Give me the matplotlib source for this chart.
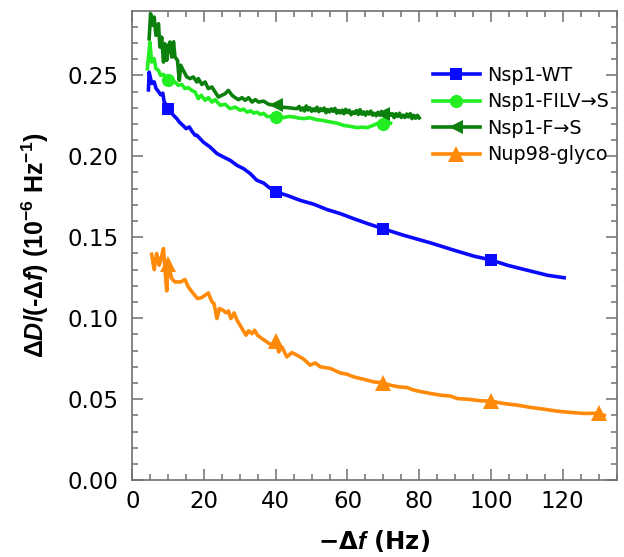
import numpy as np
import matplotlib
matplotlib.use("Agg")
import matplotlib.pyplot as plt

plt.rcParams['font.family'] = ['DejaVu Sans']
plt.rcParams['mathtext.fontset'] = 'custom'
plt.rcParams['mathtext.rm'] = 'Liberation Sans'
plt.rcParams['mathtext.bf'] = 'Liberation Sans:bold'
plt.rcParams['mathtext.it'] = 'Liberation Sans:italic'
plt.rcParams['mathtext.bfit'] = 'Liberation Sans:bold:italic'

# ---- data: -Δf (Hz) vs ΔD/(-Δf) (1e-6 / Hz) ----
wt_x = [4.5, 4.7, 5.4, 6.1, 6.6, 7.3, 7.9, 8.5, 8.9, 9.6, 10.0, 11.5, 12.4, 13.1, 14.1,
        15.0, 15.9, 16.6, 17.5, 18.0, 19.8, 21.7, 23.6, 25.4, 27.3, 29.2, 31.0, 32.9,
        34.7, 36.6, 38.0, 40.0, 43.1, 46.8, 50.6, 54.3, 58.0, 61.7, 65.5, 70.0, 75.7,
        83.2, 89.7, 95.3, 100.0, 104.6, 110.2, 115.8, 120.4]
wt_y = [0.241, 0.252, 0.245, 0.246, 0.242, 0.240, 0.238, 0.239, 0.2335, 0.2315, 0.229,
        0.2253, 0.2233, 0.2212, 0.2191, 0.2171, 0.2181, 0.2156, 0.213, 0.213, 0.2088,
        0.2057, 0.2017, 0.1996, 0.1975, 0.1944, 0.1924, 0.1893, 0.1852, 0.1835, 0.181,
        0.178, 0.1759, 0.1728, 0.1704, 0.1671, 0.1646, 0.1615, 0.1585, 0.1552, 0.1512,
        0.1465, 0.1420, 0.1383, 0.1360, 0.1327, 0.1296, 0.1265, 0.1250]

filv_x = [4.2, 4.7, 4.9, 5.4, 6.1, 6.6, 7.3, 7.9, 8.7, 10.0, 11.9, 12.8, 13.8, 14.7,
          15.6, 16.6, 17.5, 18.4, 19.2, 20.3, 21.2, 22.2, 23.1, 24.5, 25.9, 27.3, 28.7,
          30.1, 31.0, 32.0, 33.0, 33.8, 34.8, 35.7, 36.6, 37.5, 40.0, 41.0, 42.2, 43.5,
          45.0, 46.5, 47.8, 49.5, 51.5, 53.0, 55.2, 57.0, 58.9, 60.5, 62.7, 64.0, 65.5,
          67.0, 68.3, 70.0, 71.0, 72.0]
filv_y = [0.2541, 0.2654, 0.2706, 0.2582, 0.2603, 0.2541, 0.2531, 0.2500, 0.2506,
          0.2469, 0.2459, 0.2438, 0.2444, 0.2418, 0.2424, 0.2407, 0.2397, 0.2356,
          0.2377, 0.2346, 0.2362, 0.2335, 0.2350, 0.2315, 0.2321, 0.2294, 0.2304,
          0.2284, 0.2292, 0.2273, 0.2281, 0.2267, 0.2272, 0.2259, 0.2265, 0.2247,
          0.2243, 0.2250, 0.2239, 0.2246, 0.2243, 0.2236, 0.2233, 0.2238, 0.2226,
          0.2222, 0.2212, 0.2205, 0.2191, 0.2186, 0.2177, 0.2180, 0.2177, 0.2190,
          0.2202, 0.2202, 0.2210, 0.2205]

fs_x = [4.7, 5.1, 5.7, 6.1, 6.6, 7.3, 7.7, 8.2, 8.7, 9.1, 9.6, 10.0, 10.5, 11.0, 11.5,
        11.9, 12.6, 13.1, 13.5, 14.2, 15.2, 16.1, 17.0, 18.0, 18.4, 19.4, 20.3, 21.2,
        22.2, 23.1, 24.0, 25.0, 25.9, 26.8, 27.8, 28.7, 29.6, 30.6, 31.5, 32.4, 33.4,
        34.3, 35.2, 36.6, 38.0, 40.0, 41.3, 43.1, 45.9,
        46.5, 47.0, 47.5, 48.0, 48.5, 49.0, 49.5, 50.0, 50.5, 51.0, 51.5, 52.0, 52.5,
        53.0, 53.5, 54.0, 54.5, 55.0, 55.5, 56.0, 56.5, 57.0, 57.5, 58.0, 58.5, 59.0,
        59.5, 60.0, 60.5, 61.0, 61.5, 62.0, 62.5, 63.0, 63.5, 64.0, 64.5, 65.0, 65.5,
        66.0, 66.5, 67.0, 67.5, 68.0, 68.5, 69.0, 69.5, 70.0, 70.5, 71.0, 71.5, 72.0,
        72.5, 73.0, 73.5, 74.0, 74.5, 75.0, 75.5, 76.0, 76.5, 77.0, 77.5, 78.0, 78.5,
        79.0, 79.5, 80.0]
fs_y = [0.2726, 0.288, 0.2809, 0.286, 0.2747, 0.2819, 0.2675, 0.2736, 0.2582, 0.2695,
        0.2593, 0.2675, 0.2706, 0.2613, 0.2706, 0.2613, 0.2593, 0.2469, 0.2562, 0.2531,
        0.249, 0.248, 0.249, 0.2459, 0.248, 0.2444, 0.2459, 0.2418, 0.2428, 0.2397,
        0.2366, 0.2377, 0.2387, 0.2407, 0.2377, 0.2362, 0.235, 0.2362, 0.2346, 0.2362,
        0.2335, 0.235, 0.2335, 0.2341, 0.2321, 0.2315, 0.2304, 0.2301, 0.2294,
        0.2308, 0.2285, 0.2299, 0.2280, 0.2311, 0.2286, 0.2300, 0.2278, 0.2293, 0.2281,
        0.2303, 0.2276, 0.2294, 0.2282, 0.2298, 0.2269, 0.2289, 0.2274, 0.2293, 0.2278,
        0.2296, 0.2267, 0.2283, 0.2268, 0.2285, 0.2263, 0.2290, 0.2270, 0.2284, 0.2257,
        0.2274, 0.2265, 0.2283, 0.2259, 0.2288, 0.2260, 0.2274, 0.2254, 0.2275, 0.2261,
        0.2279, 0.2254, 0.2266, 0.2250, 0.2272, 0.2254, 0.2277, 0.2262, 0.2263, 0.2248,
        0.2270, 0.2254, 0.2263, 0.2239, 0.2263, 0.2246, 0.2266, 0.2240, 0.2254, 0.2240,
        0.2261, 0.2243, 0.2263, 0.2233, 0.2253, 0.2235, 0.2253, 0.2237]

nup_x = [5.4, 6.1, 6.8, 7.5, 8.0, 8.7, 9.1, 9.6, 10.0, 11.0, 11.9, 13.5, 14.7, 15.6,
         16.9, 18.2, 19.4, 21.2, 22.2, 22.8, 23.6, 24.3, 25.3, 26.2, 26.8, 27.5, 28.4,
         29.2, 30.6, 31.7, 32.4, 33.4, 34.1, 34.9, 36.1, 37.5, 38.9, 40.0, 40.8, 41.7,
         43.1, 44.5, 45.9, 47.8, 49.6, 51.0, 52.4, 55.2, 58.0, 59.9, 61.7, 64.5, 67.3,
         70.0, 72.0, 74.3, 76.6, 78.5, 80.8, 83.2, 85.9, 88.7, 90.6, 94.3, 97.1, 100.0,
         103.6, 107.4, 111.1, 114.8, 118.5, 122.3, 126.0, 130.0, 131.6]
nup_y = [0.1395, 0.130, 0.140, 0.1327, 0.1368, 0.143, 0.1307, 0.1169, 0.1337, 0.1245,
         0.1224, 0.1224, 0.1239, 0.1193, 0.1156, 0.1121, 0.1128, 0.1156, 0.1101, 0.109,
         0.0998, 0.106, 0.1049, 0.1033, 0.1045, 0.0998, 0.1033, 0.0988, 0.0936, 0.0895,
         0.0922, 0.0905, 0.0926, 0.0895, 0.0875, 0.0854, 0.0833, 0.0860, 0.0792, 0.0823,
         0.0761, 0.0788, 0.0772, 0.0747, 0.071, 0.0724, 0.070, 0.069, 0.0662, 0.0654,
         0.0638, 0.0623, 0.0607, 0.0600, 0.0586, 0.0576, 0.0572, 0.0556, 0.0545, 0.0535,
         0.0525, 0.0519, 0.0504, 0.0498, 0.049, 0.0488, 0.0473, 0.0463, 0.0449, 0.0438,
         0.0426, 0.0418, 0.0412, 0.0413, 0.040]

labels = ['Nsp1-WT', 'Nsp1-FILV\u2192S', 'Nsp1-F\u2192S', 'Nup98-glyco']
colors = ['#0a0aff', '#22ee22', '#0c800c', '#ff8a0a']
markers = ['s', 'o', '<', '^']
marker_sizes = [9, 9.5, 10.5, 11]
marker_at = [[10, 40, 70, 100], [10, 40, 70], [10, 40, 70], [10, 40, 70, 100, 130]]

series = [(wt_x, wt_y), (filv_x, filv_y), (fs_x, fs_y), (nup_x, nup_y)]

fig = plt.figure(figsize=(6.24, 5.57), dpi=100)
ax = fig.add_axes([0.212, 0.138, 0.776, 0.843])

for (xs, ys), lab, c, m, ms, mk in zip(series, labels, colors, markers, marker_sizes, marker_at):
    xs = np.asarray(xs)
    ys = np.asarray(ys)
    idx = [int(np.argmin(np.abs(xs - v))) for v in mk]
    ax.plot(xs, ys, color=c, lw=2.6, marker=m, ms=ms, markevery=idx,
            markeredgewidth=0, label=lab, solid_joinstyle='round')

ax.set_xlim(0, 135)
ax.set_ylim(0, 0.29)
ax.set_xticks(np.arange(0, 121, 20))
ax.set_xticks(np.arange(0, 136, 5), minor=True)
ax.set_yticks(np.arange(0, 0.251, 0.05))
ax.set_yticks(np.arange(0, 0.29, 0.01), minor=True)
ax.yaxis.set_major_formatter(matplotlib.ticker.FormatStrFormatter('%.2f'))

spine_color = '#707070'
for s in ax.spines.values():
    s.set_color(spine_color)
    s.set_linewidth(1.2)
ax.tick_params(which='both', direction='in', top=True, right=True, color=spine_color,
               width=1.1, labelsize=16.5, labelcolor='black')
ax.tick_params(axis='y', which='both', pad=10)
ax.tick_params(axis='x', which='both', pad=7)
ax.tick_params(which='major', length=8)
ax.tick_params(which='minor', length=4.3)

ax.set_xlabel('\u2212\u0394$\\mathbfit{f}$ (Hz)', fontsize=17.5, fontweight='bold', labelpad=11)
ax.set_ylabel('\u0394$\\mathbfit{D}$/(-\u0394$\\mathbfit{f}$) (10$^{\\mathbf{-6}}$ Hz$^{\\mathbf{-1}}$)',
              fontsize=18, fontweight='bold', labelpad=12, family='Liberation Sans')

ax.legend(loc='upper left', bbox_to_anchor=(433 / 624, 1 - 66 / 557),
          bbox_transform=fig.transFigure, frameon=False, fontsize=13.8,
          borderpad=0, borderaxespad=0, handlelength=2.45, handletextpad=0.35,
          labelspacing=0.39, numpoints=1)

fig.savefig('out.png', dpi=100)
